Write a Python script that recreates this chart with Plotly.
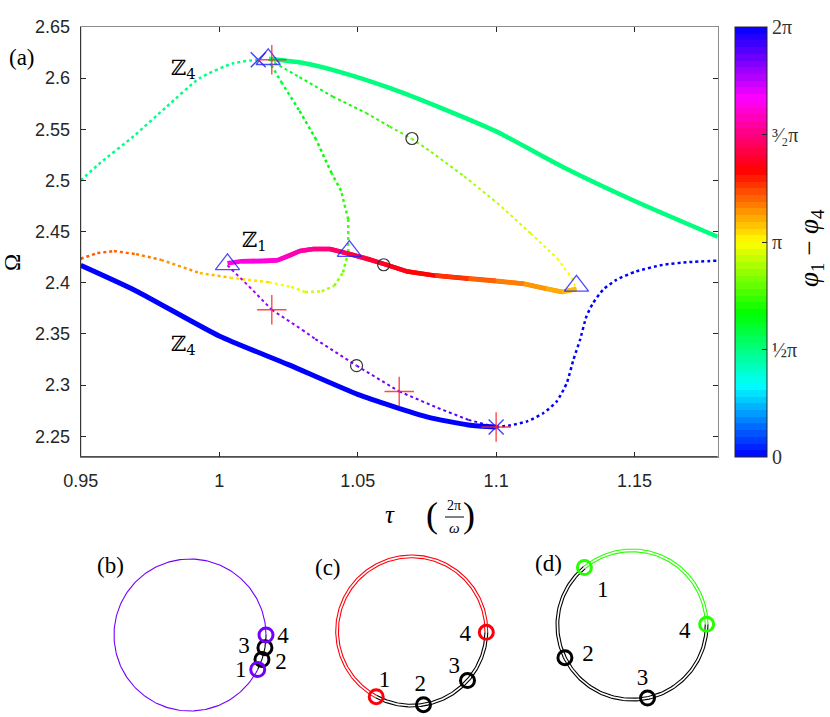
import numpy as np
import plotly.graph_objects as go
from plotly.colors import sample_colorscale

# ---------------- (a) branches: tau (2pi/omega), Omega, phi1-phi4 (units of pi)
z4_up_tau = [1.018, 1.03, 1.045, 1.062, 1.08, 1.10, 1.125, 1.15, 1.18]
z4_up_om = [2.619, 2.615, 2.605, 2.590, 2.571, 2.548, 2.512, 2.480, 2.445]
z4_up_ph = 0.5

z4_lo_tau = [0.95, 0.97, 1.0, 1.025, 1.05, 1.075, 1.09, 1.1]
z4_lo_om = [2.417, 2.392, 2.348, 2.320, 2.291, 2.269, 2.261, 2.259]
z4_lo_ph = 2.0

z1_tau = [1.003, 1.008, 1.016, 1.021, 1.025, 1.029, 1.034, 1.040, 1.046, 1.053,
          1.060, 1.068, 1.078, 1.090, 1.100, 1.110, 1.118, 1.124, 1.129]
z1_om = [2.419, 2.421, 2.421, 2.422, 2.426, 2.431, 2.433, 2.433, 2.429, 2.424,
         2.418, 2.411, 2.407, 2.404, 2.402, 2.399, 2.394, 2.391, 2.394]
z1_ph = [1.63, 1.63, 1.62, 1.61, 1.58, 1.55, 1.52, 1.48, 1.44, 1.41,
         1.38, 1.35, 1.31, 1.22, 1.19, 1.15, 1.12, 1.10, 1.07]

# unstable branches (dotted)
ua_tau = [0.950, 0.956, 0.962, 0.970, 0.979, 0.993, 1.004, 1.018, 1.026, 1.031, 1.037,
          1.0415, 1.0447, 1.0466, 1.0466, 1.044, 1.0406, 1.035, 1.0288, 1.0227, 1.019, 1.018]
ua_om = [2.4235, 2.429, 2.431, 2.428, 2.4224, 2.4095, 2.405, 2.4005, 2.396, 2.391, 2.3915,
         2.397, 2.410, 2.430, 2.462, 2.490, 2.507, 2.540, 2.569, 2.595, 2.612, 2.618]
ua_ph = [1.23, 1.22, 1.21, 1.19, 1.16, 1.11, 1.07, 1.01, 0.98, 0.95, 0.92,
         0.87, 0.82, 0.78, 0.74, 0.71, 0.69, 0.66, 0.63, 0.59, 0.56, 0.54]

ub_tau = [0.950, 0.957, 0.969, 0.981, 0.993, 1.005, 1.014]
ub_om = [2.500, 2.517, 2.543, 2.572, 2.600, 2.6145, 2.618]
ub_ph = 0.49

uc_tau = [1.018, 1.029, 1.041, 1.053, 1.0616, 1.0694, 1.0765, 1.0885, 1.1004,
          1.1124, 1.122, 1.1273, 1.1285]
uc_om = [2.618, 2.601, 2.582, 2.566, 2.5526, 2.541, 2.528, 2.504, 2.478,
         2.4485, 2.424, 2.4046, 2.3964]
uc_ph = [0.58, 0.62, 0.66, 0.70, 0.74, 0.78, 0.81, 0.86, 0.91, 0.95, 0.98, 1.0, 1.02]

ud_tau = [1.003, 1.0108, 1.019, 1.030, 1.0347, 1.0496, 1.065, 1.0789, 1.090, 1.1]
ud_om = [2.417, 2.3964, 2.3736, 2.354, 2.345, 2.319, 2.2938, 2.2777, 2.266, 2.259]
ud_ph = [1.74, 1.77, 1.80, 1.82, 1.83, 1.84, 1.86, 1.88, 1.91, 1.94]

ue_tau = [1.1, 1.1052, 1.1112, 1.1171, 1.1219, 1.1255, 1.1279, 1.1303, 1.1326, 1.135,
          1.1386, 1.1434, 1.1505, 1.1601, 1.1697, 1.18]
ue_om = [2.259, 2.2607, 2.2646, 2.2727, 2.2841, 2.302, 2.3248, 2.3443, 2.3671, 2.3802,
         2.3931, 2.4029, 2.411, 2.4175, 2.4202, 2.4216]
ue_ph = 2.0

# special points
hopf_tau = [1.003, 1.047, 1.129, 1.0177]
hopf_om = [2.418, 2.431, 2.397, 2.6185]
bp_tau = [1.0141, 1.1]
bp_om = [2.618, 2.259]
pd_tau = [1.019, 1.019, 1.065, 1.1]
pd_om = [2.618, 2.3736, 2.2938, 2.259]
snap_tau = [1.0696, 1.0594, 1.0496]
snap_om = [2.541, 2.4176, 2.319]

# ---------------- (b)-(d): oscillator phases on the circle (deg), oscillators 1..4
osc_b = [-27, -18.8, -9.6, 0]
osc_c = [-118.4, -80.9, -41.6, -1]
osc_d = [129.6, 206, 282, 0.5]
osc_labels = ['1', '2', '3', '4']

# ---------------- colours
hsv_cs = [[0, 'rgb(0,0,255)'], [1/6, 'rgb(0,255,255)'], [1/3, 'rgb(0,255,0)'],
          [0.5, 'rgb(255,255,0)'], [2/3, 'rgb(255,0,0)'], [5/6, 'rgb(255,0,255)'],
          [1, 'rgb(0,0,255)']]


def phase_color(p):
    # p in units of pi
    f = (p % 2.0) / 2.0
    return sample_colorscale(hsv_cs, [f])[0]


# stepped 64 colour bar like matlab
bands = []
for i in range(64):
    c = sample_colorscale(hsv_cs, [(i + 0.5) / 64])[0]
    bands.append([i / 64, c])
    bands.append([(i + 1) / 64, c])

W, H = 830, 717
MATH = 'Liberation Serif, DejaVu Serif, serif'
SANS = 'Liberation Sans, Arial, sans-serif'
DARK = '#262626'


def dom_x(a, b):
    return [max(0, a / W), min(1, b / W)]


def dom_y(top, bottom):
    return [max(0, 1 - bottom / H), 1 - top / H]


fig = go.Figure()


def add_graded(tau, om, ph, width, dash):
    # one trace per piece; solid pieces run one point further so joints are covered
    ext = 2 if dash == 'solid' else 1
    for i in range(len(tau) - 1):
        fig.add_trace(go.Scatter(
            x=tau[i:i + 1 + ext], y=om[i:i + 1 + ext], mode='lines',
            line=dict(color=phase_color((ph[i] + ph[i + 1]) / 2), width=width, dash=dash),
            hoverinfo='skip', showlegend=False))


def add_plain(tau, om, ph, width, dash):
    fig.add_trace(go.Scatter(
        x=tau, y=om, mode='lines', line=dict(color=phase_color(ph), width=width, dash=dash,
                                             shape='spline', smoothing=0.6),
        hoverinfo='skip', showlegend=False))


# unstable (dotted)
add_plain(ub_tau, ub_om, ub_ph, 2.5, 'dot')
add_graded(ua_tau, ua_om, ua_ph, 2.5, 'dot')
add_graded(uc_tau, uc_om, uc_ph, 2.0, 'dot')
add_graded(ud_tau, ud_om, ud_ph, 2.0, 'dot')
add_plain(ue_tau, ue_om, ue_ph, 2.5, 'dot')
# stable (solid)
add_plain(z4_up_tau, z4_up_om, z4_up_ph, 4.5, 'solid')
add_plain(z4_lo_tau, z4_lo_om, z4_lo_ph, 5, 'solid')
add_graded(z1_tau, z1_om, z1_ph, 4.5, 'solid')

# markers
fig.add_trace(go.Scatter(x=snap_tau, y=snap_om, mode='markers', hoverinfo='skip', showlegend=False,
                         marker=dict(symbol='circle-open', size=12, color='#333333', line=dict(width=1.2))))
fig.add_trace(go.Scatter(x=hopf_tau, y=hopf_om, mode='markers', hoverinfo='skip', showlegend=False,
                         marker=dict(symbol='triangle-up-open', size=21, color='rgba(30,30,255,0.8)',
                                     line=dict(width=1.3))))
fig.add_trace(go.Scatter(x=bp_tau, y=bp_om, mode='markers', hoverinfo='skip', showlegend=False,
                         marker=dict(symbol='x-thin-open', size=15, color='rgba(30,30,255,0.85)',
                                     line=dict(width=1.4))))
fig.add_trace(go.Scatter(x=pd_tau, y=pd_om, mode='markers', hoverinfo='skip', showlegend=False,
                         marker=dict(symbol='cross-thin-open', size=21, color='rgba(255,40,40,0.85)',
                                     line=dict(width=1.4))))

# colour bar carrier
fig.add_trace(go.Scatter(
    x=[None], y=[None], mode='markers', hoverinfo='skip', showlegend=False,
    marker=dict(color=[0], colorscale=bands, cmin=0, cmax=2 * np.pi, showscale=True,
                colorbar=dict(x=735 / W, xanchor='left', y=1 - 242 / H, yanchor='middle',
                              len=430 / H, lenmode='fraction', thickness=32, xpad=0, ypad=0,
                              outlinewidth=1, outlinecolor=DARK,
                              tickvals=[0, np.pi / 2, np.pi, 3 * np.pi / 2, 2 * np.pi],
                              ticktext=['0', '½π', 'π', '³⁄₂π', '2π'],
                              ticks='inside', ticklen=5, tickcolor=DARK,
                              tickfont=dict(family=MATH, size=20, color='#333333')))))

# ---------------- panels (b)-(d)
R_PX = 76.0
HALF_Y = 82.0
HALF_X = 110.0
panel_centers = [(190, 635), (411.7, 631), (632, 625)]
panel_phases = [osc_b, osc_c, osc_d]
panel_double = [False, True, True]
label_off = [
    [(-17, 2), (19, 4), (-21, 0), (17, 2)],
    [(8.3, -15), (-3.3, -19), (-13.3, -13), (-21, 3.4)],
    [(18.3, 24), (23, -2.3), (-5, -19), (-22, 7.4)],
]

for k, ((cx, cy), phases, dbl, offs) in enumerate(zip(panel_centers, panel_phases, panel_double, label_off)):
    n = k + 2
    xa, ya = 'x%d' % n, 'y%d' % n
    x0, x1 = max(0, cx - HALF_X), cx + HALF_X
    y0, y1 = cy - HALF_Y, min(H, cy + HALF_Y)
    fig.layout['xaxis%d' % n] = dict(domain=dom_x(x0, x1),
                                     range=[(x0 - cx) / R_PX, (x1 - cx) / R_PX],
                                     visible=False, anchor=ya, automargin=False)
    fig.layout['yaxis%d' % n] = dict(domain=dom_y(y0, y1),
                                     range=[(cy - y1) / R_PX, (cy - y0) / R_PX],
                                     visible=False, anchor=xa, automargin=False)
    p1, p4 = phases[0], phases[3]
    diff = (p1 - p4) % 360
    col14 = phase_color(diff / 180)
    radii = [1.0, 0.964] if dbl else [1.0]
    r_mark = 0.982 if dbl else 1.0
    # coloured arc: from 4 counter-clockwise to 1 ; black arc: from 1 to 4
    arc_col = np.radians(np.linspace(p4, p4 + diff, 240))
    arc_blk = np.radians(np.linspace(p1, p1 + (p4 - p1) % 360, 120))
    for r in radii:
        fig.add_trace(go.Scatter(x=r * np.cos(arc_blk), y=r * np.sin(arc_blk), mode='lines',
                                 xaxis=xa, yaxis=ya, line=dict(color='black', width=1.1),
                                 hoverinfo='skip', showlegend=False))
        fig.add_trace(go.Scatter(x=r * np.cos(arc_col), y=r * np.sin(arc_col), mode='lines',
                                 xaxis=xa, yaxis=ya, line=dict(color=col14, width=1.1),
                                 hoverinfo='skip', showlegend=False))
    th = np.radians(phases)
    mx, my = r_mark * np.cos(th), r_mark * np.sin(th)
    # black oscillators 2, 3 first, then coloured 1, 4 on top
    fig.add_trace(go.Scatter(x=mx[1:3], y=my[1:3], mode='markers', xaxis=xa, yaxis=ya, cliponaxis=False,
                             marker=dict(symbol='circle-open', size=14, color='black', line=dict(width=3)),
                             hoverinfo='skip', showlegend=False))
    fig.add_trace(go.Scatter(x=[mx[0], mx[3]], y=[my[0], my[3]], mode='markers', xaxis=xa, yaxis=ya,
                             cliponaxis=False,
                             marker=dict(symbol='circle-open', size=14, color=col14, line=dict(width=3)),
                             hoverinfo='skip', showlegend=False))
    lx = [mx[i] + offs[i][0] / R_PX for i in range(4)]
    ly = [my[i] - offs[i][1] / R_PX for i in range(4)]
    fig.add_trace(go.Scatter(x=lx, y=ly, mode='text', text=osc_labels, xaxis=xa, yaxis=ya,
                             cliponaxis=False, textposition='middle center',
                             textfont=dict(family=MATH, size=23, color='black'),
                             hoverinfo='skip', showlegend=False))

# ---------------- annotations
ann = []


def pann(text, px, py, size, **kw):
    ann.append(dict(text=text, x=px / W, y=1 - py / H, xref='paper', yref='paper',
                    showarrow=False, xanchor='center', yanchor='middle',
                    font=dict(family=MATH, size=size, color='black'), **kw))


pann('(a)', 22, 58, 23)
pann('(b)', 110, 565, 23)
pann('(c)', 328, 567, 23)
pann('(d)', 548, 563, 23)
pann('Ω', 12, 263, 23, textangle=-90)
pann('<i>τ</i>', 390, 514, 25)
pann('(', 432, 515, 36)
pann(')', 469, 515, 36)
pann('2π', 454, 506, 14)
pann('<i>ω</i>', 454, 528, 15)
pann('<i>φ</i><sub>1</sub> − <i>φ</i><sub>4</sub>', 811, 248, 27, textangle=-90)

for txt, tx, ty in [('ℤ<sub>4</sub>', 0.987, 2.609), ('ℤ<sub>1</sub>', 1.0129, 2.441),
                    ('ℤ<sub>4</sub>', 0.987, 2.339)]:
    ann.append(dict(text=txt, x=tx, y=ty, xref='x', yref='y', showarrow=False,
                    xanchor='center', yanchor='middle',
                    font=dict(family='DejaVu Serif, serif', size=21, color='black')))

shapes = [
    dict(type='line', xref='x domain', yref='y domain', x0=0, x1=0, y0=0, y1=1,
         line=dict(color=DARK, width=1)),
    dict(type='line', xref='x domain', yref='y domain', x0=0, x1=1, y0=0, y1=0,
         line=dict(color=DARK, width=1)),
    dict(type='line', xref='paper', yref='paper', x0=445 / W, x1=464 / W,
         y0=1 - 517 / H, y1=1 - 517 / H, line=dict(color='black', width=1)),
]

fig.update_layout(
    width=W, height=H, autosize=False,
    margin=dict(l=0, r=0, t=0, b=0, pad=0),
    paper_bgcolor='white', plot_bgcolor='white',
    showlegend=False,
    annotations=ann, shapes=shapes,
    xaxis=dict(domain=dom_x(80.7, 717.7), range=[0.95, 1.18], tickvals=[0.95, 1, 1.05, 1.1, 1.15],
               ticktext=['0.95', '1', '1.05', '1.1', '1.15'],
               ticks='inside', ticklen=5, tickcolor=DARK, showline=True, linecolor='#8c8c8c',
               mirror='ticks', showgrid=False, zeroline=False, ticklabelstandoff=8,
               tickfont=dict(family=SANS, size=18, color=DARK), anchor='y', automargin=False),
    yaxis=dict(domain=dom_y(27, 456.7), range=[2.23, 2.65],
               tickvals=[2.25, 2.3, 2.35, 2.4, 2.45, 2.5, 2.55, 2.6, 2.65],
               ticktext=['2.25', '2.3', '2.35', '2.4', '2.45', '2.5', '2.55', '2.6', '2.65'],
               ticks='inside', ticklen=5, tickcolor=DARK, showline=True, linecolor='#8c8c8c',
               mirror='ticks', showgrid=False, zeroline=False, ticklabelstandoff=6,
               tickfont=dict(family=SANS, size=18, color=DARK), anchor='x', automargin=False),
)

fig.write_html("out.html", config={'displayModeBar': False},
               post_script="document.body.style.margin='0';")
